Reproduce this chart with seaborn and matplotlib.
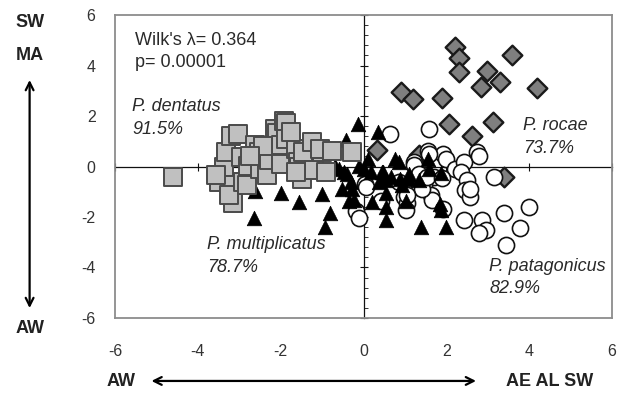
import numpy as np
import pandas as pd
import matplotlib
matplotlib.use('Agg')
import matplotlib.pyplot as plt
from matplotlib.ticker import MultipleLocator, AutoMinorLocator
import seaborn as sns

# discriminant scores
dentatus_x = [-4.61, -3.50, -3.38, -3.33, -3.19, -3.02, -3.14, -3.14, -3.24, -2.95, -2.90,
              -2.82, -2.80, -2.61, -2.53, -2.51, -2.34, -2.29, -2.13, -2.10, -2.00, -1.98,
              -1.93, -1.88, -1.88, -1.64, -1.59, -1.56, -1.49, -1.45, -1.25, -1.20, -1.00,
              -0.91, -1.06, -0.77, -0.28, -3.57, -2.42, -1.74, -2.75, -1.64]
dentatus_y = [-0.40, -0.63, -0.02, 0.59, 1.22, 1.27, -0.75, -1.43, -1.14, 0.38, -0.62,
              -0.75, 0.04, 0.87, 0.59, -0.09, -0.34, 0.26, 1.48, 1.31, 0.87, 0.10,
              1.81, 1.72, 1.09, 0.71, 0.17, -0.02, -0.50, 0.56, 0.99, -0.14, 0.59,
              -0.22, 0.70, 0.63, 0.59, -0.35, 0.83, 1.35, 0.43, -0.22]

multi_x = [-2.61, -2.65, -1.98, -1.56, -1.00, -0.82, -0.92, -0.14, -0.43, 0.36, -0.76,
           0.77, 0.86, 1.55, 1.59, 1.88, 1.84, 1.88, 1.39, 2.00, 0.55, 0.55, 0.20,
           1.03, 1.11, 0.48, 0.53, 0.67, 0.38, 0.55, -0.29, -0.28, -0.23, -0.48, -0.10,
           0.10, -0.68, -0.59, -1.50, 0.01, 0.18, 1.10, 1.35, 0.93, 0.45, -0.40, 0.87,
           -0.52, -0.35]
multi_y = [-0.95, -2.05, -1.05, -1.40, -1.10, -1.85, -2.40, 1.70, 1.05, 1.35, 0.59,
           0.30, 0.18, 0.30, -0.10, -0.25, -1.50, -1.72, -2.40, -2.40, -2.10, -1.60, -1.40,
           -1.35, -0.49, -0.22, -0.55, -0.42, -0.63, -1.03, -0.62, -0.91, -1.31, -0.22, 0.04,
           0.30, 0.04, -0.10, -0.35, -0.10, -0.22, -0.30, -0.55, -0.75, -0.22, -0.30, -0.49,
           -0.91, -1.35]

patag_x = [0.63, 1.59, 1.93, 2.75, 1.55, 1.59, 1.21, 1.22, 2.00, 2.22, 2.42, 2.36,
           3.14, 2.51, 2.46, 2.56, 1.69, 1.47, 1.35, 1.64, 1.66, 0.97, 1.06, 1.03,
           0.43, -0.17, -0.10, 0.03, 0.86, 1.93, 2.42, 2.87, 2.95, 2.80, 3.38, 4.00,
           3.77, 3.45, 1.35, 2.80, 1.42, 1.05, 2.56, 0.06, 1.54, 1.90]
patag_y = [1.29, 1.48, 0.50, 0.56, 0.63, 0.51, 0.17, 0.06, 0.30, -0.09, 0.17, -0.22,
           -0.40, -0.55, -0.94, -1.20, -0.42, -0.75, -0.81, -1.14, -1.31, -1.21, -1.45, -1.72,
           -1.35, -1.75, -2.05, -0.70, -0.63, -1.70, -2.10, -2.10, -2.50, -2.65, -1.85, -1.60,
           -2.45, -3.10, -0.30, 0.42, -0.91, -1.11, -0.91, -0.83, -0.42, -0.45]

rocae_x = [2.20, 2.30, 2.30, 3.59, 2.97, 3.30, 2.83, 4.18, 0.90, 1.20, 1.90, 2.06,
           3.13, 2.63, 0.32, 1.35, 3.38]
rocae_y = [4.75, 4.30, 3.74, 4.40, 3.80, 3.36, 3.15, 3.12, 2.97, 2.68, 2.72, 1.69,
           1.78, 1.20, 0.66, 0.46, -0.40]

groups = ['P. rocae', 'P. patagonicus', 'P. multiplicatus', 'P. dentatus']
df = pd.concat([
    pd.DataFrame({'x': rocae_x, 'y': rocae_y, 'sp': groups[0]}),
    pd.DataFrame({'x': patag_x, 'y': patag_y, 'sp': groups[1]}),
    pd.DataFrame({'x': multi_x, 'y': multi_y, 'sp': groups[2]}),
    pd.DataFrame({'x': dentatus_x, 'y': dentatus_y, 'sp': groups[3]}),
])

labels = [('P. dentatus', '91.5%', -5.59, 2.36),
          ('P. rocae', '73.7%', 3.86, 1.62),
          ('P. multiplicatus', '78.7%', -3.77, -3.10),
          ('P. patagonicus', '82.9%', 3.04, -3.95)]

sns.set_theme(style='white')
plt.rcParams['font.family'] = ['Liberation Sans', 'DejaVu Sans']
plt.rcParams['axes.unicode_minus'] = False

fig = plt.figure(figsize=(6.3, 3.96), dpi=100)
pos = [0.1825, 0.197, 0.789, 0.765]

# under-layer with the axes crossing at zero
ax0 = fig.add_axes(pos)
ax = fig.add_axes(pos)
for a in (ax0, ax):
    a.set_xlim(-6, 6)
    a.set_ylim(-6, 6)
ax0.set_zorder(1)
ax.set_zorder(2)
ax.patch.set_alpha(0)

ax0.spines['left'].set_position(('data', 0))
ax0.spines['bottom'].set_position(('data', 0))
ax0.spines['top'].set_visible(False)
ax0.spines['right'].set_visible(False)
for s in ('left', 'bottom'):
    ax0.spines[s].set_color('#111111')
    ax0.spines[s].set_linewidth(0.9)
ax0.xaxis.set_major_locator(MultipleLocator(2))
ax0.yaxis.set_major_locator(MultipleLocator(2))
ax0.yaxis.set_minor_locator(AutoMinorLocator(5))
ax0.tick_params(axis='both', which='major', direction='inout', length=6, width=0.8,
                color='#111111', labelleft=False, labelbottom=False, left=True, bottom=True)
ax0.tick_params(axis='y', which='minor', direction='in', length=3, width=0.6,
                color='#111111', left=True)

styles = {
    'P. rocae': dict(marker='D', s=100, color='#7f7f7f', edgecolor='#1a1a1a', linewidth=1.7),
    'P. patagonicus': dict(marker='o', s=135, color='white', edgecolor='#111111', linewidth=1.2),
    'P. multiplicatus': dict(marker='^', s=110, color='black', edgecolor='black', linewidth=0.5),
    'P. dentatus': dict(marker='s', s=155, color='#c0c0c0', edgecolor='#4a4a4a', linewidth=1.4),
}
for g in groups:
    sub = df[df['sp'] == g]
    sns.scatterplot(data=sub, x='x', y='y', ax=ax, legend=False, **styles[g])

ax.set_xlim(-6, 6)
ax.set_ylim(-6, 6)
ax.set_xlabel('')
ax.set_ylabel('')
ax.set_xticks(np.arange(-6, 7, 2))
ax.set_yticks(np.arange(-6, 7, 2))
ax.tick_params(axis='both', length=0, labelsize=11.5, labelcolor='#333333')
ax.tick_params(axis='x', pad=19)
ax.tick_params(axis='y', pad=14)
for s in ax.spines.values():
    s.set_color('#8c8c8c')
    s.set_linewidth(1.3)

tc = '#2a2a2a'
ax.text(-5.52, 5.01, "Wilk's \u03bb= 0.364", fontsize=13, color=tc, va='center')
ax.text(-5.52, 4.14, 'p= 0.00001', fontsize=13, color=tc, va='center')
for name, pct, lx, ly in labels:
    ax.text(lx, ly, name, fontsize=13, style='italic', color=tc, va='center')
    ax.text(lx, ly - 0.9, pct, fontsize=13, style='italic', color=tc, va='center')

# outer direction labels
bk = dict(fontsize=13, fontweight='bold', color='#222222', ha='center', va='center')
fig.text(0.047, 0.942, 'SW', **bk)
fig.text(0.047, 0.861, 'MA', **bk)
fig.text(0.047, 0.170, 'AW', **bk)
fig.text(0.192, 0.036, 'AW', **bk)
fig.text(0.872, 0.036, 'AE AL SW', **bk)
arrow = dict(arrowstyle='<->', color='black', lw=1.6, mutation_scale=14)
fig.patches.append(matplotlib.patches.FancyArrowPatch((0.047, 0.805), (0.047, 0.215),
                                                      transform=fig.transFigure, **arrow))
fig.patches.append(matplotlib.patches.FancyArrowPatch((0.236, 0.038), (0.760, 0.038),
                                                      transform=fig.transFigure, **arrow))

fig.savefig('out.png', dpi=100)
